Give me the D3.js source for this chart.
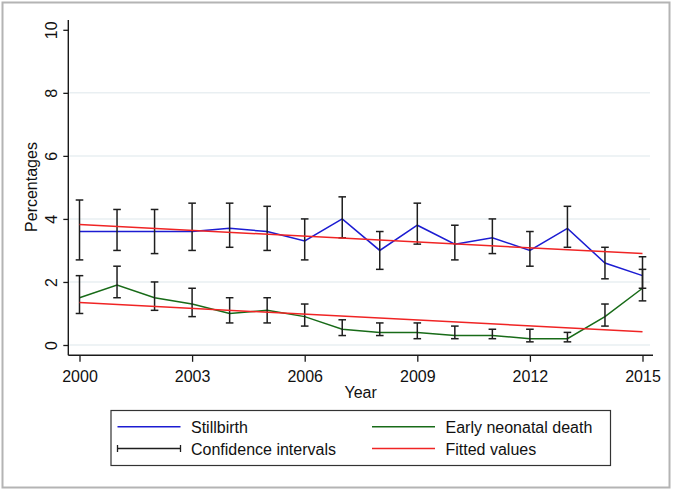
<!DOCTYPE html>
<html>
<head>
<meta charset="utf-8">
<script src="https://cdn.jsdelivr.net/npm/d3@7"></script>
<style>
  html, body { margin: 0; padding: 0; background: #fff; }
  svg { display: block; font-family: "Liberation Sans", Arial, sans-serif; }
</style>
</head>
<body>
<svg id="chart" width="673" height="491"></svg>
<script>
// ---- Data ----
const years = [2000, 2001, 2002, 2003, 2004, 2005, 2006, 2007, 2008, 2009, 2010, 2011, 2012, 2013, 2014, 2015];

const stillbirth      = [3.6, 3.6, 3.6, 3.6, 3.7, 3.6, 3.3, 4.0, 3.0, 3.8, 3.2, 3.4, 3.0, 3.7, 2.6, 2.2];
const stillbirthLow   = [2.7, 3.0, 2.9, 3.0, 3.1, 3.0, 2.7, 3.4, 2.4, 3.2, 2.7, 2.9, 2.5, 3.1, 2.1, 1.8];
const stillbirthHigh  = [4.6, 4.3, 4.3, 4.5, 4.5, 4.4, 4.0, 4.7, 3.6, 4.5, 3.8, 4.0, 3.6, 4.4, 3.1, 2.8];

const neonatal        = [1.5, 1.9, 1.5, 1.3, 1.0, 1.1, 0.9, 0.5, 0.4, 0.4, 0.3, 0.3, 0.2, 0.2, 0.9, 1.8];
const neonatalLow     = [1.0, 1.5, 1.1, 0.9, 0.7, 0.7, 0.6, 0.3, 0.3, 0.2, 0.2, 0.2, 0.1, 0.1, 0.6, 1.4];
const neonatalHigh    = [2.2, 2.5, 2.0, 1.8, 1.5, 1.5, 1.3, 0.8, 0.7, 0.7, 0.6, 0.5, 0.5, 0.4, 1.3, 2.4];

const fitYears        = [2000, 2015];
const fitStillbirth   = [3.82, 2.90];
const fitNeonatal     = [1.35, 0.42];

const xTicks = [2000, 2003, 2006, 2009, 2012, 2015];
const yTicks = [0, 2, 4, 6, 8, 10];
const gridTicks = [0, 2, 4, 6, 8];

const legendLabels = ["Stillbirth", "Early neonatal death", "Confidence intervals", "Fitted values"];

// ---- Styles ----
const C_BLUE = "#1c1cd2";
const C_GREEN = "#186b18";
const C_RED = "#f02424";
const C_CI = "#1e1e1e";

const svg = d3.select("#chart");

// outer frame
svg.append("rect").attr("x", 2.5).attr("y", 2.5).attr("width", 667).attr("height", 485)
  .attr("fill", "#fff").attr("stroke", "#b4b4b4").attr("stroke-width", 2);

const x = d3.scaleLinear().domain([2000, 2015]).range([79.5, 642.5]);
const y = d3.scaleLinear().domain([0, 10]).range([345, 29.8]);

const plotLeft = 68.3, plotRight = 653, plotTop = 20, plotBottom = 355.3;

// grid
svg.append("g").selectAll("line").data(gridTicks).join("line")
  .attr("x1", plotLeft + 1).attr("x2", 650)
  .attr("y1", d => y(d)).attr("y2", d => y(d))
  .attr("stroke", "#e9eff2").attr("stroke-width", 1.5);

// y axis
const yAxis = svg.append("g").attr("transform", `translate(${plotLeft},0)`)
  .call(d3.axisLeft(y).tickValues(yTicks).tickSize(5).tickPadding(0).tickFormat(d3.format("d")));
yAxis.select(".domain").remove();
yAxis.selectAll(".tick line").attr("stroke", "#1a1a1a").attr("stroke-width", 1.3);
yAxis.selectAll(".tick text")
  .attr("x", null).attr("dy", null)
  .attr("transform", "translate(-11.5,0) rotate(-90)")
  .attr("text-anchor", "middle")
  .attr("font-size", 16).attr("fill", "#111")
  .attr("font-family", "Liberation Sans, Arial, sans-serif");
svg.append("line").attr("x1", plotLeft).attr("x2", plotLeft).attr("y1", plotTop).attr("y2", plotBottom)
  .attr("stroke", "#1a1a1a").attr("stroke-width", 1.4);

// x axis
const xAxis = svg.append("g").attr("transform", `translate(0,${plotBottom})`)
  .call(d3.axisBottom(x).tickValues(xTicks).tickSize(6.5).tickPadding(3).tickFormat(d3.format("d")));
xAxis.select(".domain").remove();
xAxis.selectAll(".tick line").attr("stroke", "#1a1a1a").attr("stroke-width", 1.3);
xAxis.selectAll(".tick text").attr("font-size", 16).attr("fill", "#111")
  .attr("dy", null).attr("y", 26.5)
  .attr("font-family", "Liberation Sans, Arial, sans-serif");
svg.append("line").attr("x1", plotLeft).attr("x2", plotRight).attr("y1", plotBottom).attr("y2", plotBottom)
  .attr("stroke", "#1a1a1a").attr("stroke-width", 1.4);

// axis titles
svg.append("text").attr("transform", `translate(37,187) rotate(-90)`)
  .attr("text-anchor", "middle").attr("font-size", 16).attr("fill", "#111").text("Percentages");
svg.append("text").attr("x", (plotLeft + plotRight) / 2).attr("y", 398)
  .attr("text-anchor", "middle").attr("font-size", 16).attr("fill", "#111").text("Year");

// series lines
const line = d3.line().x((d, i) => x(years[i])).y(d => y(d));
svg.append("path").datum(stillbirth).attr("d", line)
  .attr("fill", "none").attr("stroke", C_BLUE).attr("stroke-width", 1.5);
svg.append("path").datum(neonatal).attr("d", line)
  .attr("fill", "none").attr("stroke", C_GREEN).attr("stroke-width", 1.5);

// confidence intervals
function drawCI(lows, highs) {
  const g = svg.append("g").attr("stroke", C_CI).attr("stroke-width", 1.5);
  const idx = d3.range(years.length);
  g.selectAll("line.v").data(idx).join("line").attr("class", "v")
    .attr("x1", i => x(years[i])).attr("x2", i => x(years[i]))
    .attr("y1", i => y(lows[i])).attr("y2", i => y(highs[i]));
  g.selectAll("line.lo").data(idx).join("line").attr("class", "lo")
    .attr("x1", i => x(years[i]) - 3.8).attr("x2", i => x(years[i]) + 3.8)
    .attr("y1", i => y(lows[i])).attr("y2", i => y(lows[i]));
  g.selectAll("line.hi").data(idx).join("line").attr("class", "hi")
    .attr("x1", i => x(years[i]) - 3.8).attr("x2", i => x(years[i]) + 3.8)
    .attr("y1", i => y(highs[i])).attr("y2", i => y(highs[i]));
}
drawCI(stillbirthLow, stillbirthHigh);
drawCI(neonatalLow, neonatalHigh);

// fitted lines
const fitLine = d3.line().x((d, i) => x(fitYears[i])).y(d => y(d));
svg.append("path").datum(fitStillbirth).attr("d", fitLine)
  .attr("fill", "none").attr("stroke", C_RED).attr("stroke-width", 1.5);
svg.append("path").datum(fitNeonatal).attr("d", fitLine)
  .attr("fill", "none").attr("stroke", C_RED).attr("stroke-width", 1.5);

// legend
const lg = svg.append("g");
lg.append("rect").attr("x", 111).attr("y", 410.5).attr("width", 499.5).attr("height", 55)
  .attr("fill", "#fff").attr("stroke", "#333").attr("stroke-width", 1.2);
const items = [
  { label: legendLabels[0], color: C_BLUE, col: 0, row: 0, ci: false },
  { label: legendLabels[1], color: C_GREEN, col: 1, row: 0, ci: false },
  { label: legendLabels[2], color: C_CI, col: 0, row: 1, ci: true },
  { label: legendLabels[3], color: C_RED, col: 1, row: 1, ci: false }
];
const colX = [117.5, 372];
const rowY = [426.8, 448.5];
items.forEach(it => {
  const x0 = colX[it.col], y0 = rowY[it.row];
  lg.append("line").attr("x1", x0).attr("x2", x0 + 63).attr("y1", y0).attr("y2", y0)
    .attr("stroke", it.color).attr("stroke-width", it.ci ? 1.3 : 1.5);
  if (it.ci) {
    lg.append("line").attr("x1", x0).attr("x2", x0).attr("y1", y0 - 3.5).attr("y2", y0 + 3.5)
      .attr("stroke", it.color).attr("stroke-width", 1.3);
    lg.append("line").attr("x1", x0 + 63).attr("x2", x0 + 63).attr("y1", y0 - 3.5).attr("y2", y0 + 3.5)
      .attr("stroke", it.color).attr("stroke-width", 1.3);
  }
  lg.append("text").attr("x", x0 + 73.5).attr("y", y0 + 6)
    .attr("font-size", 16).attr("fill", "#111").text(it.label);
});
</script>
</body>
</html>
